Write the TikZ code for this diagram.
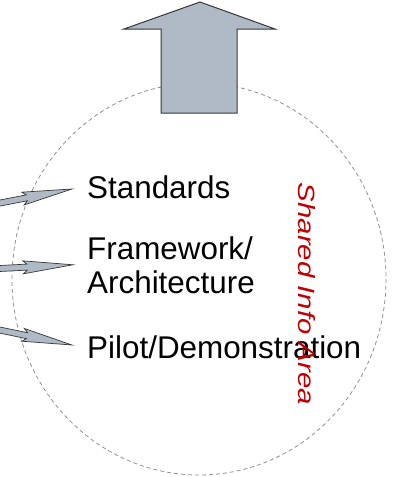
\documentclass[tikz,border=0pt]{standalone}
\usepackage{fontspec}
\setmainfont{Liberation Sans}
\usetikzlibrary{calc}
\definecolor{arrfill}{HTML}{B0B9C6}
\definecolor{arrline}{HTML}{383838}
\definecolor{dashgray}{HTML}{909090}
\definecolor{areared}{HTML}{C00000}
\tikzset{
  itemtext/.style={font=\fontsize{31.4}{34}\selectfont, inner sep=0pt, anchor=base west, align=left, text=black},
  areatext/.style={font=\fontsize{23.5}{26}\itshape\selectfont, text=areared, inner sep=0pt, rotate=-90, xscale=1.25},
  shared/.style={draw=dashgray, line width=0.8pt, dash pattern=on 4pt off 3pt},
  bigarrow/.style={fill=arrfill, draw=arrline, line width=1pt, line join=miter},
  smallarrow/.style={fill=arrfill, draw=arrline, line width=0.7pt, line join=miter}
}
\newcommand\thinarr[2]{%
  \filldraw[smallarrow]
    ($(#1)!3pt!90:(#2)$) --
    ($(#2)!46pt!(#1)!3pt!-90:(#1)$) --
    ($(#2)!50pt!(#1)!6.5pt!-90:(#1)$) --
    (#2) --
    ($(#2)!50pt!(#1)!6.5pt!90:(#1)$) --
    ($(#2)!46pt!(#1)!3pt!90:(#1)$) --
    ($(#1)!3pt!-90:(#2)$) -- cycle;}
\begin{document}
\begin{tikzpicture}[x=1pt,y=-1pt]
\useasboundingbox (0,0) rectangle (394,477);
\clip (0,0) rectangle (394,477);
% shared info area
\draw[shared] (199,279) ellipse [x radius=187, y radius=196];
% big upward arrow
\filldraw[bigarrow] (161,113) -- (237,113) -- (237,29) -- (275,29) -- (200,2) -- (124,29) -- (161,29) -- cycle;
% texts
\node[itemtext] (std) at (87,198) {Standards};
\node[itemtext] (fw) at (87,293) {Framework/\\Architecture};
\node[itemtext] (pilot) at (87,358) {Pilot/Demonstration};
\node[areatext] (area) at (306.5,294) {Shared Info Area};
% arrows
\coordinate (a1) at (-10,205);
\coordinate (a2) at (-10,269);
\coordinate (a3) at (-10,328);
\coordinate (t1) at ($(std.base west)+(-15,-9)$);
\coordinate (t2) at ($(fw.west)+(-14,0)$);
\coordinate (t3) at ($(pilot.base west)+(-15,-13)$);
\thinarr{a1}{t1}
\thinarr{a2}{t2}
\thinarr{a3}{t3}
\end{tikzpicture}
\end{document}
